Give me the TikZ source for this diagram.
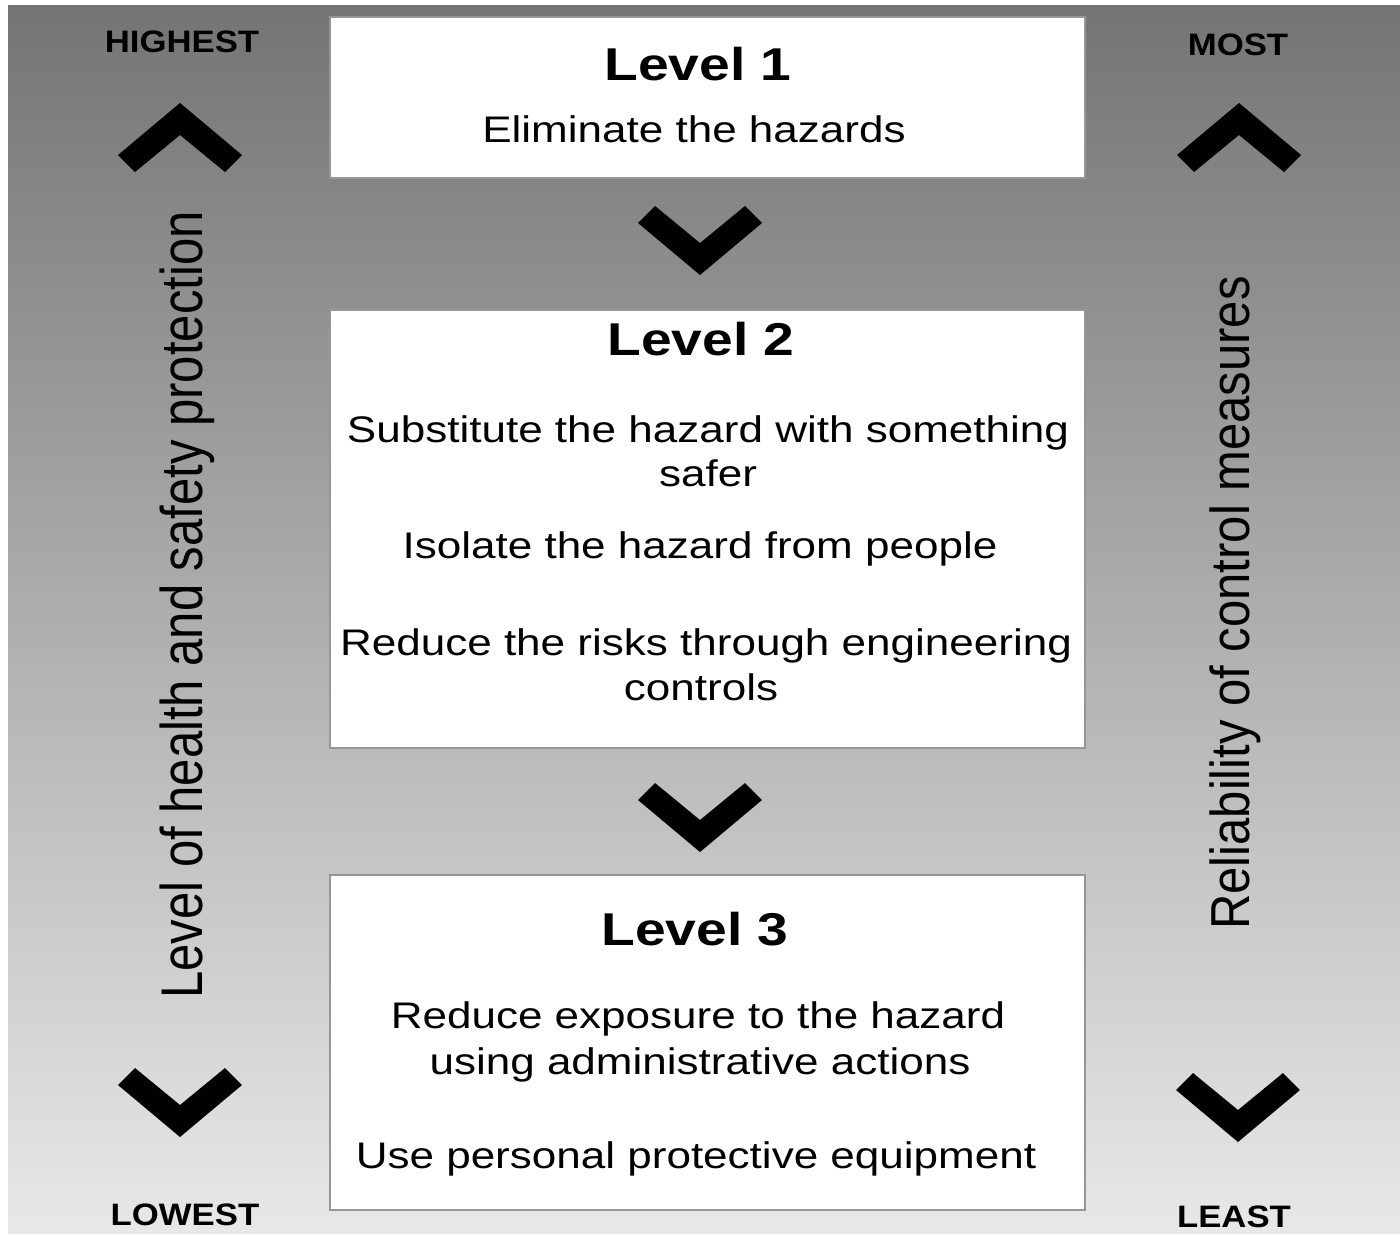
\documentclass[tikz,border=0pt]{standalone}
\usepackage{fontspec}
\setmainfont{Liberation Sans}
\definecolor{bgtop}{RGB}{116,116,116}
\definecolor{bgbot}{RGB}{232,232,232}
\definecolor{boxline}{RGB}{150,150,150}
\newcommand\bodytext[1]{{\fontsize{37}{46}\selectfont\scalebox{1.19}[1]{#1}}}
\newcommand\titletext[1]{{\fontsize{46}{50}\selectfont\bfseries\scalebox{1.2}[1]{#1}}}
\newcommand\sidelabel[1]{{\fontsize{31}{36}\selectfont\bfseries\scalebox{1.12}[1]{#1}}}
\newcommand\upchev[2]{\fill[black] (#1,#2) -- ++(62,52) -- ++(-17,17) -- ++(-45,-37) -- ++(-45,37) -- ++(-17,-17) -- cycle;}
\newcommand\downchev[2]{\fill[black] (#1,#2) -- ++(62,-52) -- ++(-17,-17) -- ++(-45,37) -- ++(-45,-37) -- ++(-17,17) -- cycle;}
\tikzset{
  levelbox/.style={draw=boxline, line width=1.5pt, fill=white, rectangle, inner sep=0pt, minimum width=755pt},
  txt/.style={inner sep=0pt, anchor=base},
}
\begin{document}
\begin{tikzpicture}[x=1pt,y=-1pt]
\useasboundingbox (0,0) rectangle (1400,1235);
\shade[top color=bgtop, bottom color=bgbot] (8,5) rectangle (1400,1233);

% boxes
\node[levelbox, minimum height=161pt] (box1) at (707.5,97.5) {};
\node[levelbox, minimum height=438pt] (box2) at (707.5,529) {};
\node[levelbox, minimum height=335pt] (box3) at (707.5,1042.5) {};

% box 1 texts
\node[txt] (t1) at (698,80) {\titletext{Level 1}};
\node[txt] (l1a) at (694,142) {\bodytext{Eliminate the hazards}};

% box 2 texts
\node[txt] (t2) at (701,355) {\titletext{Level 2}};
\node[txt] (l2a) at (708,442) {\bodytext{Substitute the hazard with something}};
\node[txt] (l2b) at (708,486) {\bodytext{safer}};
\node[txt] (l2c) at (700,558) {\bodytext{Isolate the hazard from people}};
\node[txt] (l2d) at (706,655) {\bodytext{Reduce the risks through engineering}};
\node[txt] (l2e) at (701,700) {\bodytext{controls}};

% box 3 texts
\node[txt] (t3) at (695,945) {\titletext{Level 3}};
\node[txt] (l3a) at (698,1028) {\bodytext{Reduce exposure to the hazard}};
\node[txt] (l3b) at (700,1074) {\bodytext{using administrative actions}};
\node[txt] (l3c) at (696,1168) {\bodytext{Use personal protective equipment}};

% chevrons between boxes
\downchev{700}{275}
\downchev{700}{852}

% side chevrons
\upchev{180}{103}
\upchev{1239}{103}
\downchev{180}{1137}
\downchev{1238}{1142}

% side labels
\node[txt] (hi) at (182,52) {\sidelabel{HIGHEST}};
\node[txt] (lo) at (185,1225) {\sidelabel{LOWEST}};
\node[txt] (mo) at (1238,55) {\sidelabel{MOST}};
\node[txt] (le) at (1234,1227) {\sidelabel{LEAST}};

% rotated texts
\node[txt, rotate=90] (lvl) at (202,605) {\fontsize{49}{55}\selectfont\scalebox{1}[1.2]{Level of health and safety protection}};
\node[txt, rotate=90] (rel) at (1249,603) {\fontsize{49}{55}\selectfont\scalebox{1}[1.12]{Reliability of control measures}};
\end{tikzpicture}
\end{document}
